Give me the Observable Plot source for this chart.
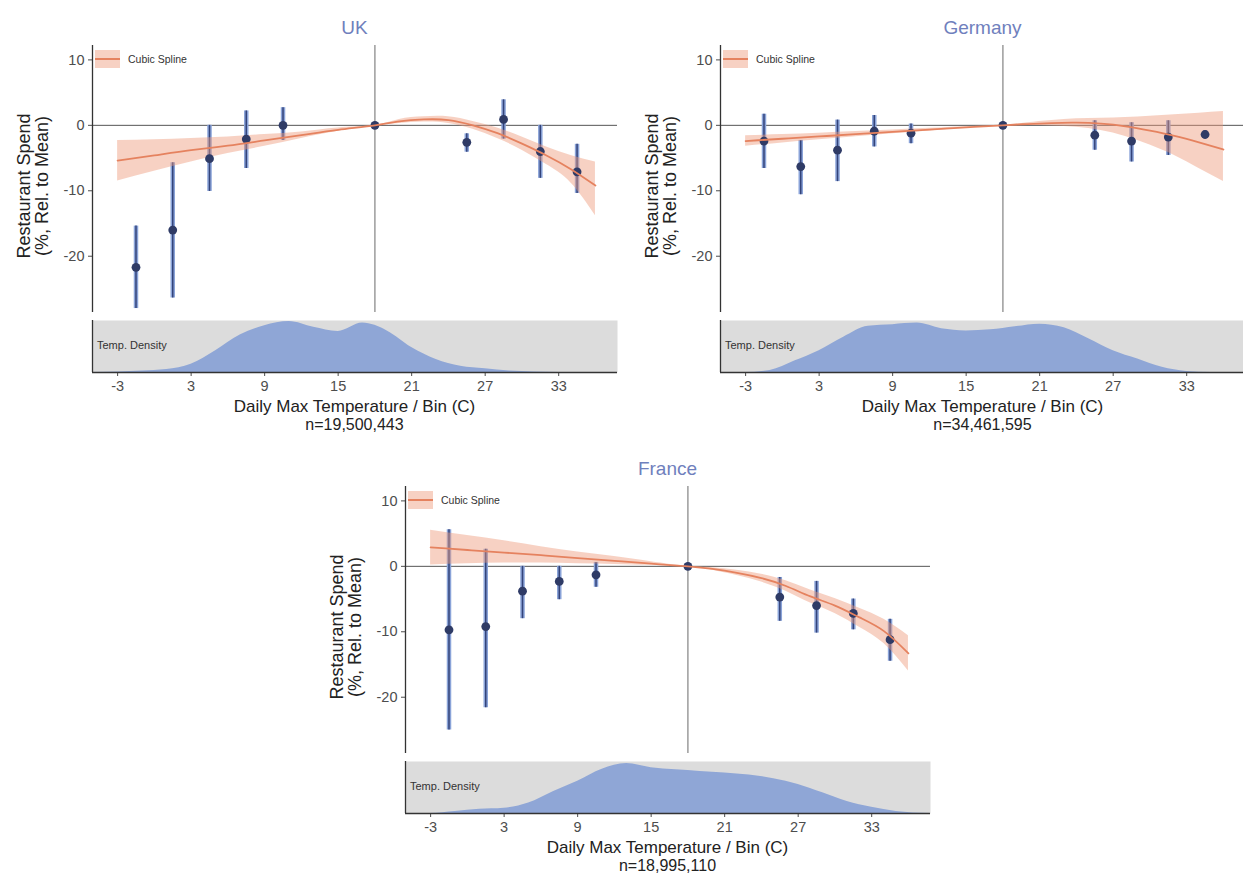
<!DOCTYPE html>
<html>
<head>
<meta charset="utf-8">
<script src="https://cdn.jsdelivr.net/npm/d3@7"></script>
<script src="https://cdn.jsdelivr.net/npm/@observablehq/plot@0.6"></script>
<style>
  html, body { margin: 0; padding: 0; background: #fff; }
  body { width: 1243px; height: 877px; overflow: hidden; position: relative; font-family: "Liberation Sans", Arial, sans-serif; }
  .panel { position: absolute; width: 630px; height: 440px; }
  .txt { position: absolute; white-space: nowrap; color: #222; }
</style>
</head>
<body>
<script>
// ---------- data ----------
const bins = [-1.5, 1.5, 4.5, 7.5, 10.5, 18, 25.5, 28.5, 31.5, 34.5];
const refTemp = 18;
const xTicks = [-3, 3, 9, 15, 21, 27, 33];
const yTicks = [-20, -10, 0, 10];

const ukEst = [-21.7, -16.0, -5.1, -2.1, 0.0, 0, -2.6, 0.9, -4.0, -7.1];
const ukLo  = [-28.0, -26.4, -10.1, -6.6, -2.3, 0, -4.1, -2.1, -8.1, -10.4];
const ukHi  = [-15.4, -5.7, 0.0, 2.2, 2.7, 0, -1.3, 3.9, 0.0, -2.9];

const deEst = [-2.4, -6.3, -3.8, -0.9, -1.2, 0, -1.5, -2.4, -1.8, -1.4];
const deLo  = [-6.6, -10.6, -8.6, -3.3, -2.8, 0, -3.8, -5.6, -4.6, -2.1];
const deHi  = [1.7, -2.3, 0.8, 1.5, 0.2, 0, 0.7, 0.4, 0.7, -0.8];

const frEst = [-9.7, -9.2, -3.8, -2.3, -1.3, 0, -4.7, -6.0, -7.2, -11.2];
const frLo  = [-25.0, -21.6, -8.0, -5.1, -3.2, 0, -8.4, -10.2, -9.7, -14.5];
const frHi  = [5.6, 2.6, 0.0, 0.0, 0.6, 0, -1.7, -2.3, -5.0, -8.1];

const splineX = [-3, 0, 3, 6, 9, 12, 15, 18, 20, 22, 24, 26, 28, 30, 32, 34, 36];
const ukFit   = [-5.4, -4.6, -3.8, -3.1, -2.3, -1.5, -0.7, 0, 0.6, 0.9, 0.8, 0.0, -1.2, -2.8, -4.6, -6.7, -9.2];
const ukFitLo = [-8.5, -7.0, -5.6, -4.3, -3.2, -2.0, -0.9, 0, 0.3, 0.5, 0.3, -0.6, -2.0, -3.8, -6.0, -8.8, -13.8];
const ukFitHi = [-2.3, -2.2, -2.0, -1.8, -1.4, -1.0, -0.4, 0, 0.9, 1.3, 1.3, 0.6, -0.4, -1.8, -3.3, -4.6, -5.6];

const deFit   = [-2.4, -2.05, -1.7, -1.35, -1.0, -0.65, -0.3, 0, 0.2, 0.35, 0.4, 0.25, -0.15, -0.8, -1.6, -2.6, -3.7];
const deFitLo = [-3.2, -2.7, -2.2, -1.75, -1.3, -0.85, -0.4, 0, 0.0, -0.1, -0.3, -0.8, -1.7, -3.0, -4.6, -6.6, -8.6];
const deFitHi = [-1.6, -1.4, -1.2, -0.95, -0.7, -0.45, -0.2, 0, 0.4, 0.75, 1.0, 1.1, 1.2, 1.4, 1.6, 1.85, 2.1];

const frFit   = [2.9, 2.5, 2.1, 1.7, 1.25, 0.85, 0.4, 0, -0.4, -1.0, -1.8, -3.0, -4.6, -6.0, -7.8, -9.9, -13.3];
const frFitLo = [0.2, 0.4, 0.5, 0.5, 0.4, 0.3, 0.15, 0, -0.6, -1.4, -2.4, -3.8, -5.6, -7.2, -9.3, -11.8, -16.0];
const frFitHi = [5.5, 4.7, 3.9, 3.0, 2.2, 1.5, 0.7, 0, -0.2, -0.6, -1.2, -2.2, -3.6, -4.9, -6.4, -8.1, -10.6];

const densX  = [-5, -3, -1, 1, 3, 5, 7, 9, 11, 13, 15, 17, 19, 21, 23, 25, 27, 29, 31, 33, 35, 37.8];
const ukDens = [0, 0.01, 0.03, 0.06, 0.16, 0.42, 0.72, 0.90, 0.98, 0.87, 0.79, 0.95, 0.80, 0.48, 0.25, 0.12, 0.07, 0.03, 0.01, 0, 0, 0];
const deDens = [0, 0, 0.04, 0.22, 0.42, 0.68, 0.89, 0.92, 0.95, 0.84, 0.80, 0.82, 0.88, 0.93, 0.86, 0.65, 0.42, 0.26, 0.10, 0.02, 0, 0];
const frDens = [0, 0, 0.04, 0.08, 0.10, 0.20, 0.42, 0.62, 0.85, 0.96, 0.88, 0.84, 0.81, 0.78, 0.74, 0.67, 0.56, 0.40, 0.23, 0.12, 0.04, 0];

const countries = ["UK", "Germany", "France"];
const sampleN = ["n=19,500,443", "n=34,461,595", "n=18,995,110"];
const legendLabel = "Cubic Spline";
const stripLabel = "Temp. Density";
const xTitle = "Daily Max Temperature / Bin (C)";
const yTitle = ["Restaurant Spend", "(%, Rel. to Mean)"];

// ---------- layout ----------
const xDomain = [-5.05, 37.8];
const yDomain = [-28.6, 12.2];
const fmt = d => String(d);
const baseStyle = {fontFamily: "'Liberation Sans', Arial, sans-serif", fontSize: "14.5px", color: "#4d4d4d", background: "none", overflow: "visible"};

function mainPlot(est, lo, hi, fit, flo, fhi) {
  const pts = bins.map((x, i) => ({x, est: est[i], lo: lo[i], hi: hi[i]}));
  const ci = pts.filter(d => d.lo !== d.hi);
  const spl = splineX.map((x, i) => ({x, fit: fit[i], lo: flo[i], hi: fhi[i]}));
  return Plot.plot({
    width: 630, height: 320,
    marginLeft: 92, marginRight: 13, marginTop: 45, marginBottom: 8,
    style: baseStyle,
    x: {domain: xDomain, axis: null},
    y: {domain: yDomain, ticks: yTicks, tickFormat: fmt, tickSize: 4, tickPadding: 4, label: null},
    marks: [
      Plot.ruleY([0], {stroke: "#555", strokeWidth: 1}),
      Plot.ruleX([refTemp], {stroke: "#8c8c8c", strokeWidth: 1.3}),
      Plot.ruleX(ci, {x: "x", y1: "lo", y2: "hi", stroke: "#8aa3d8", strokeWidth: 4.5}),
      Plot.ruleX(ci, {x: "x", y1: "lo", y2: "hi", stroke: "#34447a", strokeWidth: 1.5}),
      Plot.areaY(spl, {x: "x", y1: "lo", y2: "hi", fill: "#ee9a7a", fillOpacity: 0.45, curve: "natural"}),
      Plot.dot(pts, {x: "x", y: "est", r: 4.4, fill: "#2f3b66"}),
      Plot.line(spl, {x: "x", y: "fit", stroke: "#e5825f", strokeWidth: 1.8, curve: "natural"}),
      Plot.ruleX([xDomain[0]], {stroke: "#333", strokeWidth: 1.3})
    ]
  });
}

function stripPlot(dens) {
  const d = densX.map((x, i) => ({x, y: dens[i]}));
  return Plot.plot({
    width: 630, height: 90,
    marginLeft: 92, marginRight: 13, marginTop: 8, marginBottom: 30,
    style: baseStyle,
    x: {domain: xDomain, ticks: xTicks, tickFormat: fmt, tickSize: 4, tickPadding: 4, label: null},
    y: {domain: [0, 1], axis: null},
    marks: [
      Plot.frame({fill: "#dcdcdc", stroke: null}),
      Plot.areaY(d, {x: "x", y: "y", fill: "#8fa6d6", curve: "monotone-x"}),
      Plot.ruleX([xDomain[0]], {stroke: "#333", strokeWidth: 1.3}),
      Plot.ruleY([0], {stroke: "#333", strokeWidth: 1.3})
    ]
  });
}

const panels = [
  {left: 0,   top: 0,   est: ukEst, lo: ukLo, hi: ukHi, fit: ukFit, flo: ukFitLo, fhi: ukFitHi, dens: ukDens},
  {left: 628, top: 0,   est: deEst, lo: deLo, hi: deHi, fit: deFit, flo: deFitLo, fhi: deFitHi, dens: deDens},
  {left: 313, top: 441, est: frEst, lo: frLo, hi: frHi, fit: frFit, flo: frFitLo, fhi: frFitHi, dens: frDens}
];

function addText(parent, text, css) {
  const el = document.createElement("div");
  el.className = "txt";
  el.textContent = text;
  Object.assign(el.style, css);
  parent.appendChild(el);
  return el;
}

panels.forEach((p, k) => {
  const c = document.createElement("div");
  c.className = "panel";
  c.style.left = p.left + "px";
  c.style.top = p.top + "px";
  document.body.appendChild(c);

  const m = mainPlot(p.est, p.lo, p.hi, p.fit, p.flo, p.fhi);
  m.style.position = "absolute"; m.style.left = "0px"; m.style.top = "0px";
  c.appendChild(m);

  const s = stripPlot(p.dens);
  s.style.position = "absolute"; s.style.left = "0px"; s.style.top = "312px";
  c.appendChild(s);

  addText(c, countries[k], {left: "354.5px", top: "28px", transform: "translate(-50%,-50%)", fontSize: "19px", color: "#6f80bd"});

  const yt = document.createElement("div");
  yt.className = "txt";
  yt.innerHTML = yTitle.join("<br>");
  Object.assign(yt.style, {left: "33px", top: "186px", transform: "translate(-50%,-50%) rotate(-90deg)", fontSize: "18px", lineHeight: "18px", textAlign: "center", color: "#222"});
  c.appendChild(yt);

  const sw = document.createElement("div");
  Object.assign(sw.style, {position: "absolute", left: "95px", top: "50px", width: "25px", height: "18px", background: "rgba(238,154,122,0.45)"});
  const ln = document.createElement("div");
  Object.assign(ln.style, {position: "absolute", left: "0px", top: "8px", width: "25px", height: "2px", background: "#e5825f"});
  sw.appendChild(ln);
  c.appendChild(sw);
  addText(c, legendLabel, {left: "128px", top: "59px", transform: "translateY(-50%)", fontSize: "10.5px", color: "#333"});

  addText(c, stripLabel, {left: "97px", top: "345px", transform: "translateY(-50%)", fontSize: "11px", color: "#333"});

  addText(c, xTitle, {left: "354.5px", top: "407px", transform: "translate(-50%,-50%)", fontSize: "17px", lineHeight: "16px", color: "#222"});
  addText(c, sampleN[k], {left: "354.5px", top: "425px", transform: "translate(-50%,-50%)", fontSize: "16px", lineHeight: "16px", color: "#222"});
});
</script>
</body>
</html>
